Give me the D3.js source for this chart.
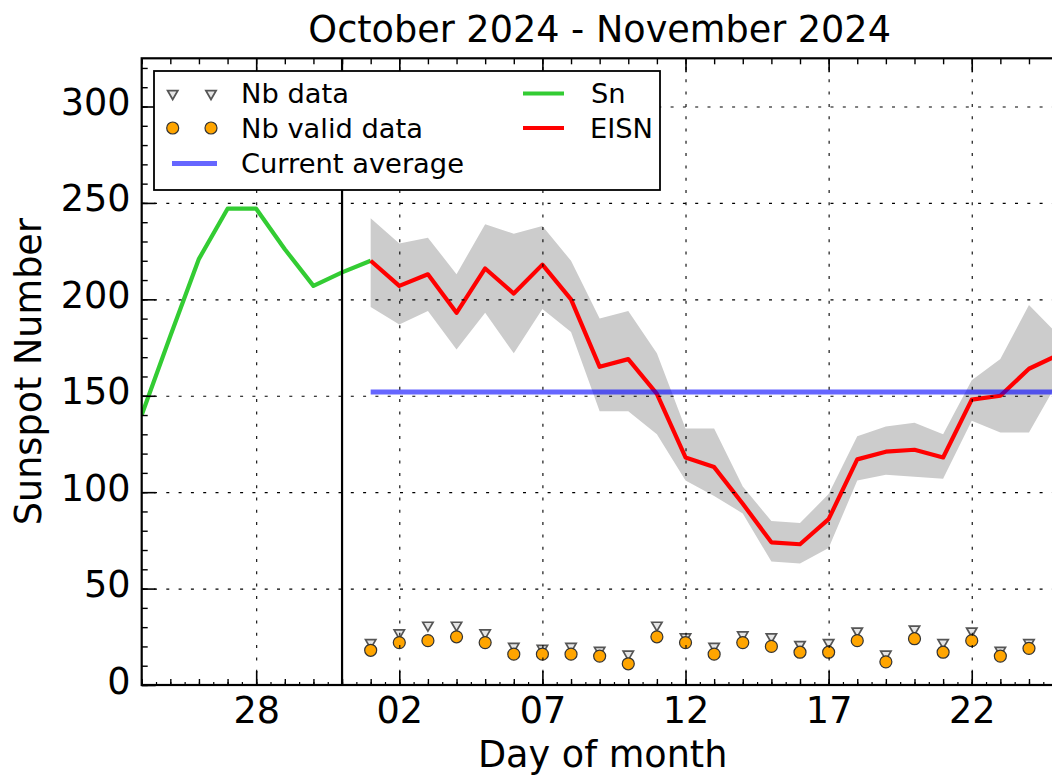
<!DOCTYPE html>
<html>
<head>
<meta charset="utf-8">
<script src="https://cdn.jsdelivr.net/npm/d3@7"></script>
<style>
  html, body { margin: 0; padding: 0; background: #fff; }
  svg { display: block; font-family: "DejaVu Sans", sans-serif; }
</style>
</head>
<body>
<svg id="chart" width="1052" height="776"></svg>
<script>
// ---- data -------------------------------------------------------------
const snDates = ["2024-10-24", "2024-10-25", "2024-10-26", "2024-10-27", "2024-10-28",
                 "2024-10-29", "2024-10-30", "2024-10-31", "2024-11-01"];
const snValues = [140, 181, 221, 247, 247, 226, 207, 214, 220];

const eisnDates = ["2024-11-01", "2024-11-02", "2024-11-03", "2024-11-04", "2024-11-05",
                   "2024-11-06", "2024-11-07", "2024-11-08", "2024-11-09", "2024-11-10",
                   "2024-11-11", "2024-11-12", "2024-11-13", "2024-11-14", "2024-11-15",
                   "2024-11-16", "2024-11-17", "2024-11-18", "2024-11-19", "2024-11-20",
                   "2024-11-21", "2024-11-22", "2024-11-23", "2024-11-24", "2024-11-25"];
const eisnValues = [220, 207, 213, 193, 216, 203, 218, 200, 165, 169, 151, 118, 113,
                    94, 74, 73, 86, 117, 121, 122, 118, 148, 150, 164, 171];
const eisnHigh = [242, 229, 232, 213, 239, 234, 238, 220, 190, 194, 172, 133, 133,
                  103, 85, 84, 99, 129, 134, 136, 130, 158, 169, 197, 182];
const eisnLow  = [196, 187, 194, 174, 193, 172, 195, 183, 142, 142, 130, 106, 98,
                  89, 64, 63, 71, 106, 109, 108, 107, 137, 131, 131, 157];

const nbDates = eisnDates.slice(0, 24);
const nbData  = [22, 27, 31, 31, 27, 20, 19, 20, 18, 16, 31, 25, 20, 26, 25, 21, 22,
                 28, 16, 29, 22, 28, 18, 22];
const nbValid = [18, 22, 23, 25, 22, 16, 16, 16, 15, 11, 25, 22, 16, 22, 20, 17, 17,
                 23, 12, 24, 17, 23, 15, 19];

const currentAverage = 152;
const averageStart = "2024-11-01";
const monthBoundary = "2024-10-31";

const xTickDates = ["2024-10-28", "2024-11-02", "2024-11-07", "2024-11-12", "2024-11-17", "2024-11-22"];
const yTicks = [0, 50, 100, 150, 200, 250, 300];

const titleText = "October 2024 - November 2024";
const xLabel = "Day of month";
const yLabel = "Sunspot Number";

// ---- layout -----------------------------------------------------------
const parse = d3.utcParse("%Y-%m-%d");
const svg = d3.select("#chart");
const L = 141.7, R = 1057.6, T = 58.3, B = 685;
const bigFont = 36.6;

const x = d3.scaleUtc()
  .domain([parse("2024-10-24"), parse("2024-11-25")])
  .range([L, R]);
const y = d3.scaleLinear().domain([0, 325]).range([B, T]);

svg.append("defs").append("clipPath").attr("id", "plotclip")
  .append("rect").attr("x", L).attr("y", T).attr("width", R - L).attr("height", B - T);

const plot = svg.append("g").attr("clip-path", "url(#plotclip)");

// uncertainty band around EISN
const band = eisnDates.map((d, i) => ({ date: parse(d), lo: eisnLow[i], hi: eisnHigh[i] }));
plot.append("path")
  .datum(band)
  .attr("fill", "#cccccc")
  .attr("d", d3.area().x(d => x(d.date)).y0(d => y(d.lo)).y1(d => y(d.hi)));

// dotted grid
const grid = svg.append("g").attr("clip-path", "url(#plotclip)");
grid.append("g")
  .attr("transform", `translate(0,${B})`)
  .call(d3.axisBottom(x).tickValues(xTickDates.map(parse)).tickSize(-(B - T)).tickFormat(""))
  .call(g => g.select(".domain").remove());
grid.append("g")
  .attr("transform", `translate(${L},0)`)
  .call(d3.axisLeft(y).tickValues(yTicks).tickSize(-(R - L)).tickFormat(""))
  .call(g => g.select(".domain").remove());
grid.selectAll("line")
  .attr("stroke", "#000").attr("stroke-width", 1.1).attr("stroke-dasharray", "3,9.3");

// boundary between the two months
svg.append("line")
  .attr("x1", x(parse(monthBoundary))).attr("x2", x(parse(monthBoundary)))
  .attr("y1", T).attr("y2", B)
  .attr("stroke", "#000").attr("stroke-width", 2.2);

// Sn line
plot.append("path")
  .datum(snDates.map((d, i) => ({ date: parse(d), v: snValues[i] })))
  .attr("fill", "none").attr("stroke", "#33cc33").attr("stroke-width", 4.2)
  .attr("stroke-linejoin", "round")
  .attr("d", d3.line().x(d => x(d.date)).y(d => y(d.v)));

// EISN line
plot.append("path")
  .datum(eisnDates.map((d, i) => ({ date: parse(d), v: eisnValues[i] })))
  .attr("fill", "none").attr("stroke", "#ff0000").attr("stroke-width", 4.2)
  .attr("stroke-linejoin", "round")
  .attr("d", d3.line().x(d => x(d.date)).y(d => y(d.v)));

// current average
plot.append("line")
  .attr("x1", x(parse(averageStart))).attr("x2", R + 5)
  .attr("y1", y(currentAverage)).attr("y2", y(currentAverage))
  .attr("stroke", "#0000ff").attr("stroke-opacity", 0.6).attr("stroke-width", 5);

// station counts
const tri = d3.symbol().type(d3.symbolTriangle).size(46);
plot.append("g").selectAll("path")
  .data(nbDates.map((d, i) => ({ date: parse(d), v: nbData[i] })))
  .join("path")
  .attr("d", tri)
  .attr("transform", d => `translate(${x(d.date)},${y(d.v)}) rotate(180)`)
  .attr("fill", "#e6e6e6").attr("stroke", "#555").attr("stroke-width", 1.7);
plot.append("g").selectAll("circle")
  .data(nbDates.map((d, i) => ({ date: parse(d), v: nbValid[i] })))
  .join("circle")
  .attr("cx", d => x(d.date)).attr("cy", d => y(d.v)).attr("r", 6)
  .attr("fill", "#ffa500").attr("stroke", "#333").attr("stroke-width", 1.2);

// ---- axes -------------------------------------------------------------
function styleTicks(g, w) {
  g.select(".domain").remove();
  g.selectAll("line").attr("stroke", "#000").attr("stroke-width", w);
}
// bottom
svg.append("g").attr("transform", `translate(0,${B})`)
  .call(d3.axisBottom(x).ticks(d3.utcHour.every(12)).tickSize(-3).tickFormat(""))
  .call(g => styleTicks(g, 1.2));
svg.append("g").attr("transform", `translate(0,${B})`)
  .call(d3.axisBottom(x).ticks(d3.utcDay.every(1)).tickSize(-6).tickFormat(""))
  .call(g => styleTicks(g, 1.4));
const xAxis = svg.append("g").attr("transform", `translate(0,${B})`)
  .call(d3.axisBottom(x).tickValues(xTickDates.map(parse)).tickSize(-14)
        .tickFormat(d3.utcFormat("%d")))
  .call(g => styleTicks(g, 1.6));
xAxis.selectAll("text")
  .attr("y", 38).attr("dy", null)
  .attr("font-size", bigFont).attr("font-family", "DejaVu Sans").attr("fill", "#000");
// top
svg.append("g").attr("transform", `translate(0,${T})`)
  .call(d3.axisTop(x).ticks(d3.utcDay.every(1)).tickSize(-6).tickFormat(""))
  .call(g => styleTicks(g, 1.4));
svg.append("g").attr("transform", `translate(0,${T})`)
  .call(d3.axisTop(x).tickValues(xTickDates.map(parse)).tickSize(-14).tickFormat(""))
  .call(g => styleTicks(g, 1.6));
// left
svg.append("g").attr("transform", `translate(${L},0)`)
  .call(d3.axisLeft(y).tickValues(d3.range(0, 330, 10)).tickSize(-6).tickFormat(""))
  .call(g => styleTicks(g, 1.4));
const yAxis = svg.append("g").attr("transform", `translate(${L},0)`)
  .call(d3.axisLeft(y).tickValues(yTicks).tickSize(-14).tickFormat(d3.format("d")))
  .call(g => styleTicks(g, 1.6));
yAxis.selectAll("text")
  .attr("x", 130.5 - L).attr("dy", null).attr("y", 8)
  .attr("font-size", bigFont).attr("font-family", "DejaVu Sans").attr("fill", "#000");

// frame
svg.append("rect")
  .attr("x", L).attr("y", T).attr("width", R - L).attr("height", B - T)
  .attr("fill", "none").attr("stroke", "#000").attr("stroke-width", 2.2);

// ---- text -------------------------------------------------------------
svg.append("text")
  .attr("x", (L + R) / 2).attr("y", 42)
  .attr("text-anchor", "middle").attr("font-size", bigFont).text(titleText);
svg.append("text")
  .attr("x", (L + R) / 2 + 3).attr("y", 767)
  .attr("text-anchor", "middle").attr("font-size", bigFont).text(xLabel);
svg.append("text")
  .attr("transform", `translate(41,${(T + B) / 2}) rotate(-90)`)
  .attr("text-anchor", "middle").attr("font-size", bigFont).text(yLabel);

// ---- legend -----------------------------------------------------------
const lg = svg.append("g");
lg.append("rect")
  .attr("x", 154).attr("y", 71).attr("width", 506).attr("height", 119)
  .attr("fill", "#fff").attr("stroke", "#000").attr("stroke-width", 1.8);
const rowY = [93.5, 128, 163.5];
const legendFont = 27.3;
[172.7, 211].forEach(mx => {
  lg.append("path").attr("d", tri)
    .attr("transform", `translate(${mx},${rowY[0]}) rotate(180)`)
    .attr("fill", "#e6e6e6").attr("stroke", "#555").attr("stroke-width", 1.7);
  lg.append("circle").attr("cx", mx).attr("cy", rowY[1]).attr("r", 6)
    .attr("fill", "#ffa500").attr("stroke", "#333").attr("stroke-width", 1.2);
});
lg.append("line").attr("x1", 172).attr("x2", 217).attr("y1", rowY[2]).attr("y2", rowY[2])
  .attr("stroke", "#0000ff").attr("stroke-opacity", 0.6).attr("stroke-width", 5);
lg.append("line").attr("x1", 523).attr("x2", 564).attr("y1", rowY[0]).attr("y2", rowY[0])
  .attr("stroke", "#33cc33").attr("stroke-width", 4.2);
lg.append("line").attr("x1", 523).attr("x2", 564).attr("y1", rowY[1]).attr("y2", rowY[1])
  .attr("stroke", "#ff0000").attr("stroke-width", 4.2);
const legendText = [
  ["Nb data", 241, rowY[0]], ["Nb valid data", 241, rowY[1]], ["Current average", 241, rowY[2]],
  ["Sn", 591, rowY[0]], ["EISN", 590, rowY[1]]
];
legendText.forEach(([t, tx, ty]) => {
  lg.append("text").attr("x", tx).attr("y", ty + 9.8)
    .attr("font-size", legendFont).attr("fill", "#000").text(t);
});
</script>
</body>
</html>
